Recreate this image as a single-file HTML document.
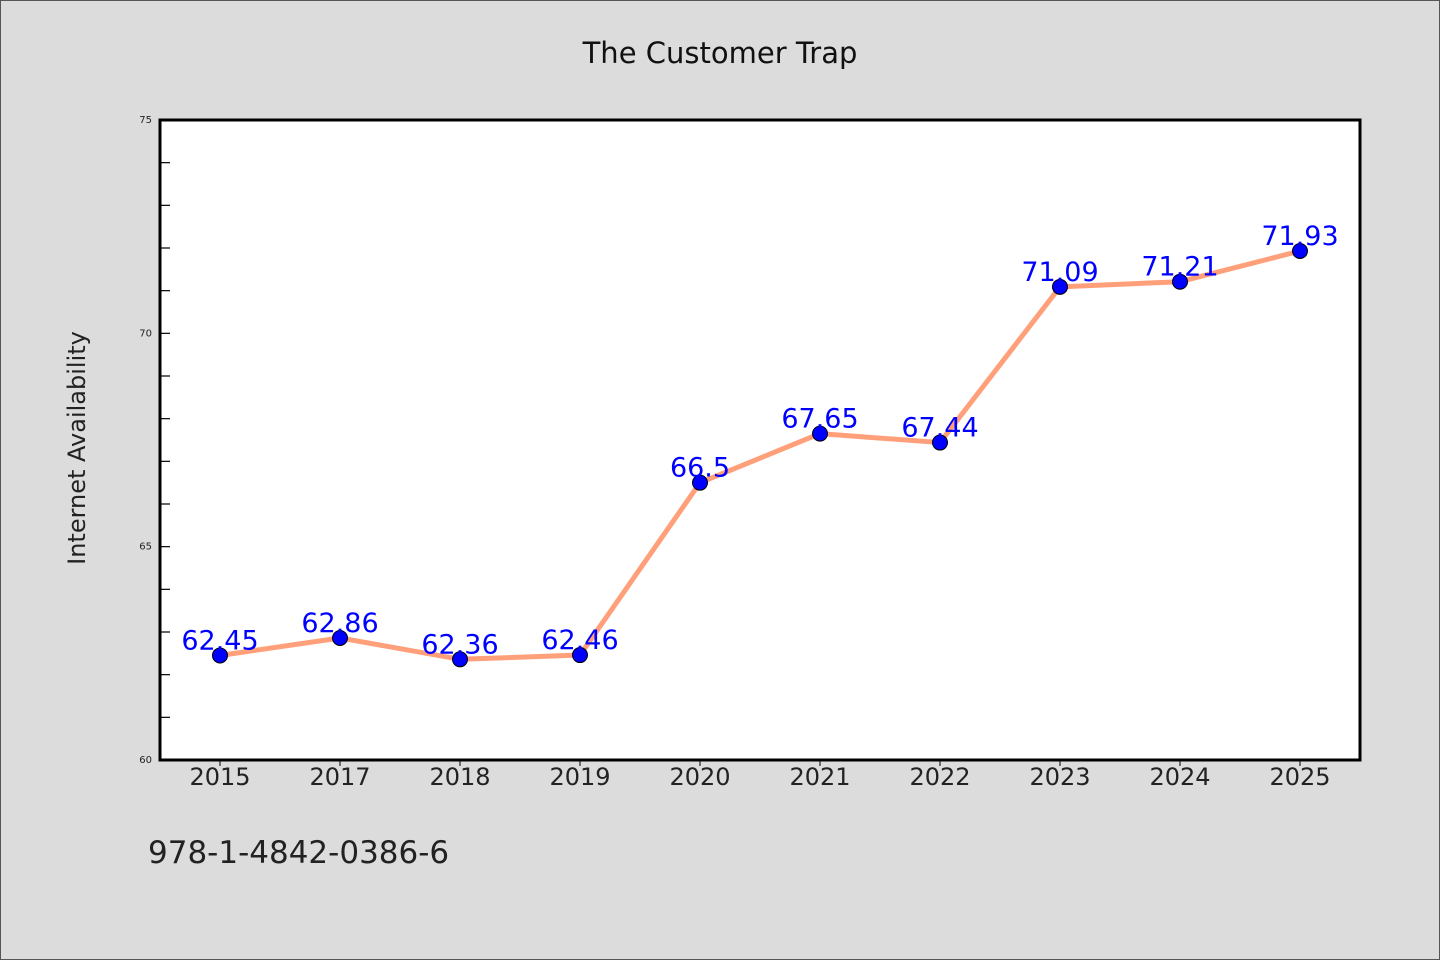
<!DOCTYPE html>
<html><head><meta charset="utf-8"><style>
html,body{margin:0;padding:0;background:#dcdcdc;}
svg{display:block;}
text{font-family:"WenQuanYi Zen Hei","DejaVu Sans",sans-serif;}
</style></head><body>
<svg id="chart" width="1440" height="960">
<rect x="0.5" y="0.5" width="1439" height="959" fill="#dcdcdc" stroke="#555"/>
<text x="720" y="63" text-anchor="middle" font-size="29" fill="#111" font-family="DejaVu Sans Mono, monospace">The Customer Trap</text>
<rect x="160" y="120" width="1200" height="640" fill="#fff"/>
<text transform="translate(85,448) rotate(-90)" text-anchor="middle" font-size="24" fill="#222" font-family="DejaVu Sans Mono, monospace">Internet Availability</text>
<text x="148" y="863" font-size="31" fill="#222">978-1-4842-0386-6</text>
<g id="grid"></g>
<g id="marks"></g>
<rect x="160" y="120" width="1200" height="640" fill="none" stroke="#000" stroke-width="3"/>
</svg>
<script>
const categories=["2015","2017","2018","2019","2020","2021","2022","2023","2024","2025"];
const values=[62.45,62.86,62.36,62.46,66.5,67.65,67.44,71.09,71.21,71.93];
const labels=["62.45","62.86","62.36","62.46","66.5","67.65","67.44","71.09","71.21","71.93"];
const yTicks=[60,65,70,75];
const yMin=60,yMax=75;
const NS="http://www.w3.org/2000/svg";
const L=160,R=1360,T=120,B=760;
const band=(R-L)/categories.length;
const xS=i=>L+band*(i+0.5);
const yS=v=>B-(v-yMin)/(yMax-yMin)*(B-T);
function mk(tag,attrs,parent){const e=document.createElementNS(NS,tag);for(const k in attrs)e.setAttribute(k,attrs[k]);parent.appendChild(e);return e;}
const grid=document.getElementById('grid'),marks=document.getElementById('marks');
for(let v=yMin+1;v<yMax;v++){
  const t=mk('line',{x1:L,x2:L+10,y1:yS(v),y2:yS(v),stroke:'#000','stroke-width':1.2},grid);
  
  
}
yTicks.forEach(v=>{
  const t=mk('text',{x:L-8,y:yS(v)+3,'text-anchor':'end','font-size':10,fill:'#222'},grid);
  t.textContent=v;
  
  
});
categories.forEach((c,i)=>{
  const tk=mk('line',{x1:xS(i),x2:xS(i),y1:B,y2:B+6,stroke:'#000','stroke-width':1},grid);
  
  
  const t=mk('text',{x:xS(i),y:B+25,'text-anchor':'middle','font-size':24,fill:'#222'},grid);
  t.textContent=c;
  
  
});
const pl=mk('polyline',{points:values.map((v,i)=>xS(i)+','+yS(v)).join(' '),fill:'none',stroke:'#ffa07a','stroke-width':5,'stroke-linejoin':'round'},marks);


values.forEach((v,i)=>{
  const c=mk('circle',{cx:xS(i),cy:yS(v),r:7.5,fill:'#0000ff',stroke:'#000','stroke-width':1},marks);
  
  
});
values.forEach((v,i)=>{
  const t=mk('text',{x:xS(i),y:yS(v)-6,'text-anchor':'middle','font-size':27,fill:'#0000ff'},marks);
  t.textContent=labels[i];
  
  
});
</script>
</body></html>
